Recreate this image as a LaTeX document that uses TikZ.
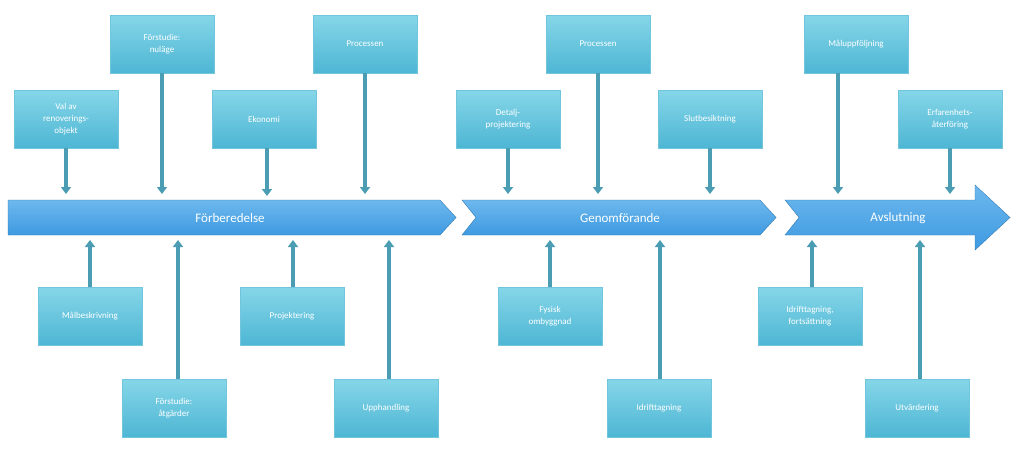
\documentclass[tikz,border=0pt]{standalone}
\usepackage{fontspec}
\setmainfont{Carlito}
\usetikzlibrary{arrows.meta}
\definecolor{boxtop}{HTML}{86D6E8}
\definecolor{boxbot}{HTML}{4DB6D4}
\definecolor{conn}{HTML}{4A9DB3}
\definecolor{chev}{HTML}{3E9AE0}
\definecolor{chevtop}{HTML}{6DB8EE}
\tikzset{
  box/.style={rectangle, minimum width=104pt, minimum height=58pt, top color=boxtop, bottom color=boxbot, draw=boxbot!80!white, text=white, font=\fontsize{9}{12}\selectfont, align=center, inner sep=2pt},
  conn/.style={draw=conn, line width=3.5pt, -{Triangle[width=10pt,length=7pt]}},
  chevron/.style={top color=chevtop, bottom color=chev, draw=chev!80!black, line width=0.4pt},
  chevtext/.style={text=white, font=\fontsize{13}{15}\selectfont}
}
\begin{document}
\begin{tikzpicture}[x=1pt,y=-1pt]
\useasboundingbox (0,0) rectangle (1024,455);
\fill[white] (0,0) rectangle (1024,455);
% chevrons
\path[chevron] (8,200) -- (440,200) -- (456,217.5) -- (440,235) -- (8,235) -- cycle;
\path[chevron] (462,200) -- (760,200) -- (776,217.5) -- (760,235) -- (462,235) -- (476,217.5) -- cycle;
\path[chevron] (785,200) -- (975,200) -- (975,185) -- (1010,217.5) -- (975,250) -- (975,235) -- (785,235) -- (799,217.5) -- cycle;
\node[chevtext] (c1) at (230,218) {Förberedelse};
\node[chevtext] (c2) at (620,218) {Genomförande};
\node[chevtext] (c3) at (898,218) {Avslutning};
% top targets
\coordinate (t1) at (66,194); \coordinate (t2) at (162,194); \coordinate (t3) at (267,196); \coordinate (t4) at (365,194);
\coordinate (t5) at (508,194); \coordinate (t6) at (598,194); \coordinate (t7) at (710,194);
\coordinate (t8) at (838,194); \coordinate (t9) at (950,194);
% bottom targets
\coordinate (b1) at (90,240); \coordinate (b2) at (178,240); \coordinate (b3) at (293,240); \coordinate (b4) at (389,240);
\coordinate (b5) at (550,240); \coordinate (b6) at (660,240); \coordinate (b7) at (812,240); \coordinate (b8) at (920,240);
% top boxes
\node[box] (n1) at (66,119) {Val av\\renoverings-\\objekt};
\node[box] (n2) at (162,44) {Förstudie:\\nuläge};
\node[box] (n3) at (264,119) {Ekonomi};
\node[box] (n4) at (365,44) {Processen};
\node[box] (n5) at (508,119) {Detalj-\\projektering};
\node[box] (n6) at (598,44) {Processen};
\node[box] (n7) at (710,119) {Slutbesiktning};
\node[box] (n8) at (856,44) {Måluppföljning};
\node[box] (n9) at (950,119) {Erfarenhets-\\återföring};
% bottom boxes
\node[box] (m1) at (90,316) {Målbeskrivning};
\node[box] (m2) at (174,408) {Förstudie:\\åtgärder};
\node[box] (m3) at (292,316) {Projektering};
\node[box] (m4) at (386,408) {Upphandling};
\node[box] (m5) at (550,316) {Fysisk\\ombyggnad};
\node[box] (m6) at (659,408) {Idrifttagning};
\node[box] (m7) at (810,316) {Idrifttagning,\\fortsättning};
\node[box] (m8) at (917,408) {Utvärdering};
% connectors
\draw[conn] (n1.south) -- (t1);
\draw[conn] (n2.south) -- (t2);
\draw[conn] (n3.south -| t3) -- (t3);
\draw[conn] (n4.south) -- (t4);
\draw[conn] (n5.south) -- (t5);
\draw[conn] (n6.south) -- (t6);
\draw[conn] (n7.south) -- (t7);
\draw[conn] (n8.south -| t8) -- (t8);
\draw[conn] (n9.south) -- (t9);
\draw[conn] (m1.north) -- (b1);
\draw[conn] (m2.north -| b2) -- (b2);
\draw[conn] (m3.north -| b3) -- (b3);
\draw[conn] (m4.north -| b4) -- (b4);
\draw[conn] (m5.north) -- (b5);
\draw[conn] (m6.north -| b6) -- (b6);
\draw[conn] (m7.north -| b7) -- (b7);
\draw[conn] (m8.north -| b8) -- (b8);
\end{tikzpicture}
\end{document}
